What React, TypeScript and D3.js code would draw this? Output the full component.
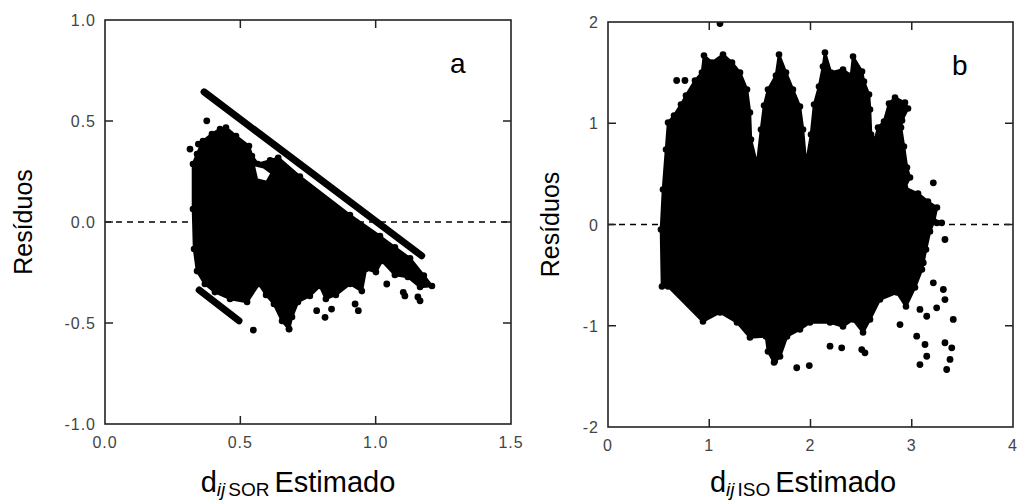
import React from "react";
import * as d3 from "d3";

// ---------- Panel a data (d_ij SOR) ----------
const aXTicks = [0, 0.5, 1.0, 1.5];
const aYTicks = [-1.0, -0.5, 0.0, 0.5, 1.0];
const aXTickLabels = ["0.0", "0.5", "1.0", "1.5"];
const aYTickLabels = ["-1.0", "-0.5", "0.0", "0.5", "1.0"];
// outline of dense point cloud (x, residual)
const aBlob: [number, number][] = [
  [0.325, 0.287], [0.34, 0.337], [0.362, 0.401], [0.395, 0.436], [0.425, 0.46],
  [0.447, 0.468], [0.484, 0.426], [0.532, 0.376], [0.543, 0.327], [0.565, 0.287],
  [0.61, 0.305], [0.64, 0.318], [0.72, 0.225], [0.905, 0.035], [1.016, -0.07],
  [1.071, -0.125], [1.127, -0.18], [1.178, -0.265], [1.208, -0.317], [1.164, -0.322],
  [1.119, -0.272], [1.071, -0.262], [1.023, -0.193], [1.001, -0.248], [0.964, -0.233],
  [0.949, -0.342], [0.905, -0.307], [0.853, -0.361], [0.816, -0.381], [0.794, -0.317],
  [0.757, -0.366], [0.713, -0.396], [0.691, -0.47], [0.68, -0.53], [0.654, -0.49],
  [0.624, -0.406], [0.595, -0.361], [0.569, -0.307], [0.525, -0.396], [0.462, -0.381],
  [0.406, -0.347], [0.369, -0.307], [0.34, -0.243], [0.329, -0.134], [0.325, 0.064],
];
// small empty pockets inside the cloud
const aHoles: [number, number][][] = [
  [[0.555, 0.275], [0.585, 0.265], [0.61, 0.24], [0.595, 0.205], [0.565, 0.215]],
];
// straight bands of points (x1, y1, x2, y2)
const aBands: [number, number, number, number][] = [
  [0.366, 0.644, 1.17, -0.167],
  [0.348, -0.337, 0.495, -0.489],
];
const aPoints: [number, number][] = [
  [0.376, 0.501], [0.314, 0.361], [0.345, 0.386], [0.548, -0.535], [0.782, -0.439],
  [0.813, -0.472], [0.837, -0.431], [0.936, -0.439], [0.924, -0.406], [1.041, -0.307],
  [1.102, -0.348], [1.108, -0.366], [1.164, -0.39], [1.156, -0.371], [0.68, -0.53],
];

// ---------- Panel b data (d_ij ISO) ----------
const bXTicks = [0, 1, 2, 3, 4];
const bYTicks = [-2, -1, 0, 1, 2];
const bXTickLabels = ["0", "1", "2", "3", "4"];
const bYTickLabels = ["-2", "-1", "0", "1", "2"];
const bBlob: [number, number][] = [
  [0.533, -0.612], [0.523, -0.049], [0.543, 0.346], [0.573, 0.741], [0.593, 1.007],
  [0.652, 1.077], [0.721, 1.185], [0.77, 1.274], [0.859, 1.422], [0.928, 1.501],
  [0.948, 1.669], [1.027, 1.6], [1.136, 1.679], [1.225, 1.6], [1.304, 1.501],
  [1.373, 1.333], [1.402, 1.106], [1.412, 0.84], [1.472, 0.593], [1.511, 0.938],
  [1.541, 1.175], [1.58, 1.333], [1.659, 1.472], [1.689, 1.679], [1.758, 1.501],
  [1.827, 1.333], [1.896, 1.165], [1.926, 0.938], [1.956, 0.593], [2.005, 0.889],
  [2.035, 1.185], [2.084, 1.363], [2.123, 1.56], [2.143, 1.699], [2.202, 1.501],
  [2.321, 1.531], [2.4, 1.472], [2.42, 1.659], [2.509, 1.511], [2.528, 1.412],
  [2.578, 1.284], [2.588, 1.136], [2.598, 0.889], [2.637, 0.84], [2.667, 0.958],
  [2.726, 1.017], [2.775, 1.195], [2.835, 1.254], [2.933, 1.205], [2.963, 1.146],
  [2.904, 1.027], [2.894, 0.958], [2.923, 0.77], [2.953, 0.563], [2.983, 0.464],
  [2.933, 0.365], [3.062, 0.306], [3.16, 0.227], [3.249, 0.168], [3.22, 0.03],
  [3.18, -0.069], [3.141, -0.247], [3.101, -0.444], [3.032, -0.622], [2.943, -0.81],
  [2.854, -0.672], [2.686, -0.741], [2.588, -0.938], [2.519, -1.067], [2.42, -0.938],
  [2.321, -1.007], [2.193, -0.968], [1.995, -0.968], [1.896, -1.037], [1.768, -1.106],
  [1.699, -1.304], [1.64, -1.363], [1.58, -1.254], [1.56, -1.106], [1.402, -1.116],
  [1.274, -0.968], [1.106, -0.869], [0.938, -0.958], [0.593, -0.612],
];
const bHoles: [number, number][][] = [];
const bBands: [number, number, number, number][] = [];
const bPoints: [number, number][] = [
  [1.106, 1.985], [0.678, 1.422], [0.76, 1.422], [3.213, 0.412], [3.247, 0.017],
  [3.296, 0.017], [3.328, -0.148], [3.213, -0.576], [3.312, -0.642], [3.328, -0.741],
  [3.246, -0.823], [3.148, -0.906], [3.41, -0.938], [3.049, -1.103], [3.131, -1.185],
  [3.148, -1.301], [3.081, -1.383], [3.328, -1.168], [3.395, -1.218], [3.378, -1.333],
  [3.345, -1.432], [2.884, -0.988], [2.193, -1.202], [2.308, -1.218], [2.506, -1.235],
  [2.538, -1.267], [1.864, -1.415], [1.988, -1.393], [1.646, -1.35], [3.081, -0.839],
  [3.114, -0.378],
];

type PanelProps = {
  box: { l: number; t: number; r: number; b: number };
  xDomain: [number, number];
  yDomain: [number, number];
  xTicks: number[];
  yTicks: number[];
  xLabels: string[];
  yLabels: string[];
  blob: [number, number][];
  holes: [number, number][][];
  bands: [number, number, number, number][];
  points: [number, number][];
  letter: string;
  sub: string;
  titleX: number;
  yTitleX: number;
  id: string;
};

function Panel(p: PanelProps) {
  const x = d3.scaleLinear().domain(p.xDomain).range([p.box.l, p.box.r]);
  const y = d3.scaleLinear().domain(p.yDomain).range([p.box.b, p.box.t]);
  const line = d3
    .line<[number, number]>()
    .x((d) => x(d[0]))
    .y((d) => y(d[1]))
    .curve(d3.curveLinearClosed);
  const tl = 8;
  const innerX = p.xTicks.filter((v) => v > p.xDomain[0] && v < p.xDomain[1]);
  const innerY = p.yTicks.filter((v) => v > p.yDomain[0] && v < p.yDomain[1]);
  const tickFont = "'Liberation Sans', Arial, sans-serif";
  const titleFont = "Arial, 'Liberation Sans', sans-serif";
  return (
    <g>
      <defs>
        <clipPath id={p.id}>
          <rect x={p.box.l} y={p.box.t} width={p.box.r - p.box.l} height={p.box.b - p.box.t} />
        </clipPath>
      </defs>
      <line x1={p.box.l} x2={p.box.r} y1={y(0)} y2={y(0)} stroke="#000" strokeWidth={1.3} strokeDasharray="6,5" />
      <g clipPath={`url(#${p.id})`}>
        <path d={line(p.blob) || ""} fill="#000" stroke="#000" strokeWidth={2.5} strokeLinejoin="round" />
        {p.blob.map((d, i) => (
          <circle key={"v" + i} cx={x(d[0])} cy={y(d[1])} r={3.3} fill="#000" />
        ))}
        {p.holes.map((h, i) => (
          <path key={"h" + i} d={line(h) || ""} fill="#fff" />
        ))}
        {p.bands.map((b, i) => (
          <line key={i} x1={x(b[0])} y1={y(b[1])} x2={x(b[2])} y2={y(b[3])} stroke="#000" strokeWidth={7} strokeLinecap="round" />
        ))}
        {p.points.map((d, i) => (
          <circle key={i} cx={x(d[0])} cy={y(d[1])} r={3.4} fill="#000" />
        ))}
      </g>
      <rect x={p.box.l} y={p.box.t} width={p.box.r - p.box.l} height={p.box.b - p.box.t} fill="none" stroke="#222" strokeWidth={1.6} />
      {innerX.map((v, i) => (
        <g key={"xt" + i}>
          <line x1={x(v)} x2={x(v)} y1={p.box.b} y2={p.box.b - tl} stroke="#222" strokeWidth={1.5} />
          <line x1={x(v)} x2={x(v)} y1={p.box.t} y2={p.box.t + tl} stroke="#222" strokeWidth={1.5} />
        </g>
      ))}
      {innerY.map((v, i) => (
        <g key={"yt" + i}>
          <line x1={p.box.l} x2={p.box.l + tl} y1={y(v)} y2={y(v)} stroke="#222" strokeWidth={1.5} />
          <line x1={p.box.r} x2={p.box.r - tl} y1={y(v)} y2={y(v)} stroke="#222" strokeWidth={1.5} />
        </g>
      ))}
      {p.xTicks.map((v, i) => (
        <text key={"xl" + i} x={x(v)} y={p.box.b + 24} textAnchor="middle" fontFamily={tickFont} fontSize={16} fill="#444" letterSpacing={1}>
          {p.xLabels[i]}
        </text>
      ))}
      {p.yTicks.map((v, i) => (
        <text key={"yl" + i} x={p.box.l - 9} y={y(v) + 6} textAnchor="end" fontFamily={tickFont} fontSize={16} fill="#444" letterSpacing={1}>
          {p.yLabels[i]}
        </text>
      ))}
      <text x={p.box.r - 61} y={p.box.t + 53} fontFamily={titleFont} fontSize={28} fill="#000">
        {p.letter}
      </text>
      <text
        transform={`translate(${p.yTitleX},${(p.box.t + p.box.b) / 2}) rotate(-90)`}
        textAnchor="middle"
        fontFamily={titleFont}
        fontSize={25}
        fill="#000"
      >
        Resíduos
      </text>
      <text x={p.titleX} y={492} textAnchor="middle" fontFamily={titleFont} fontSize={29} fill="#000">
        <tspan>d</tspan>
        <tspan fontSize={19} fontStyle="italic" dy={4}>ij</tspan>
        <tspan fontSize={19} dx={3}>{p.sub}</tspan>
        <tspan dy={-4} dx={5}>Estimado</tspan>
      </text>
    </g>
  );
}

export default function App() {
  return (
    <svg
      width={1017}
      height={502}
      style={{ position: "absolute", left: 0, top: 0, background: "#fff" }}
    >
      <rect x={0} y={0} width={1017} height={502} fill="#fff" />
      <Panel
        id="clipA"
        box={{ l: 105, t: 20, r: 511, b: 424 }}
        xDomain={[0, 1.5]}
        yDomain={[-1, 1]}
        xTicks={aXTicks}
        yTicks={aYTicks}
        xLabels={aXTickLabels}
        yLabels={aYTickLabels}
        blob={aBlob}
        holes={aHoles}
        bands={aBands}
        points={aPoints}
        letter="a"
        sub="SOR"
        titleX={298}
        yTitleX={32}
      />
      <Panel
        id="clipB"
        box={{ l: 608, t: 22, r: 1013, b: 427 }}
        xDomain={[0, 4]}
        yDomain={[-2, 2]}
        xTicks={bXTicks}
        yTicks={bYTicks}
        xLabels={bXTickLabels}
        yLabels={bYTickLabels}
        blob={bBlob}
        holes={bHoles}
        bands={bBands}
        points={bPoints}
        letter="b"
        sub="ISO"
        titleX={803}
        yTitleX={559}
      />
    </svg>
  );
}
